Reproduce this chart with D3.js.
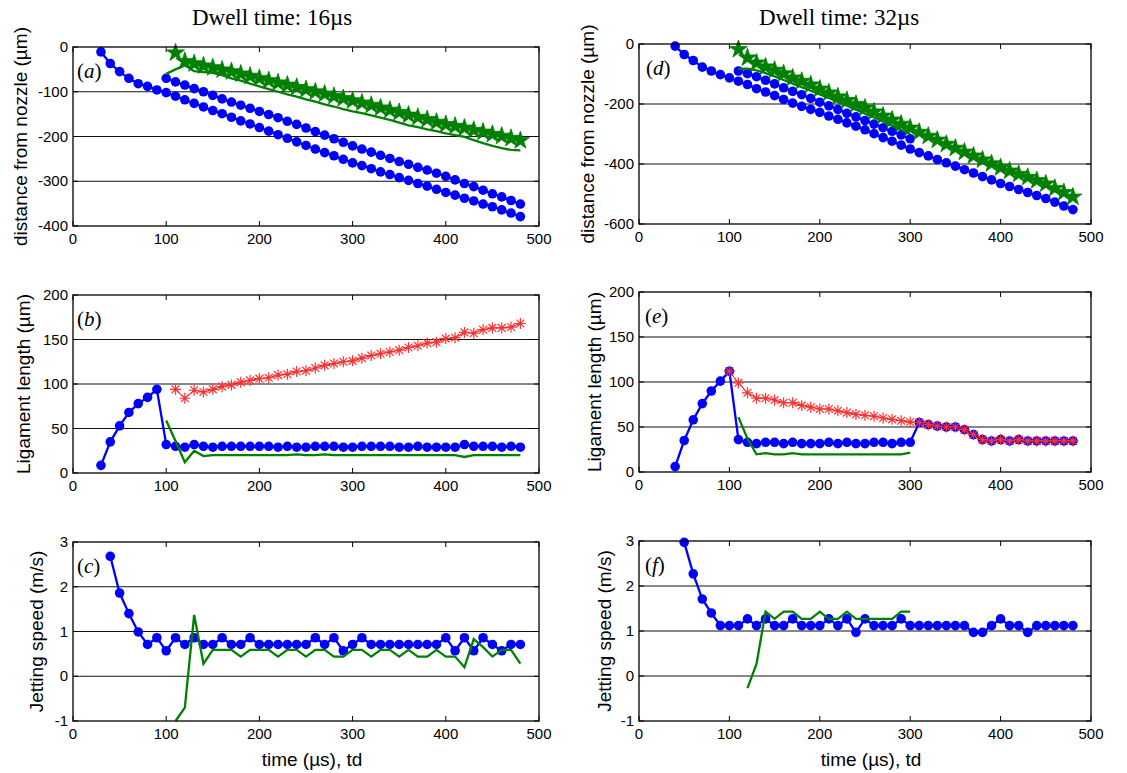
<!DOCTYPE html>
<html><head><meta charset="utf-8">
<script src="https://cdn.jsdelivr.net/npm/d3@7"></script>
<style>body{margin:0;background:#fff}svg{display:block}</style>
</head><body>
<svg id="c" width="1127" height="773"></svg>
<script>
// ---------- DATA ----------
const timeGrid = [0,10,20,30,40,50,60,70,80,90,100,110,120,130,140,150,160,170,180,190,200,210,220,230,240,250,260,270,280,290,300,310,320,330,340,350,360,370,380,390,400,410,420,430,440,450,460,470,480];
const xTicks = [0,100,200,300,400,500];
const titles = ["Dwell time: 16\u00b5s", "Dwell time: 32\u00b5s"];

// panel (a): distance from nozzle, dwell 16us
const aBlueLowerStart = 30;
const aBlueLower = [-11,-37,-55,-70,-82,-88,-96,-102,-110,-118,-126,-134,-142,-149,-157,-165,-172,-180,-188,-196,-204,-212,-220,-228,-236,-243,-251,-259,-265,-272,-279,-285,-292,-298,-305,-311,-318,-325,-331,-338,-344,-351,-357,-364,-371,-379];
const aBlueUpperStart = 100;
const aBlueUpper = [-70,-78,-85,-93,-100,-108,-116,-123,-130,-137,-144,-151,-158,-166,-173,-181,-189,-197,-205,-213,-221,-228,-235,-242,-249,-256,-262,-269,-275,-282,-289,-297,-305,-312,-320,-328,-335,-343,-351];
const aStarsStart = 110;
const aStars = [-13,-32,-37,-42,-46,-51,-55,-60,-65,-70,-75,-80,-85,-90,-95,-100,-105,-110,-115,-120,-125,-130,-136,-141,-146,-152,-157,-162,-168,-173,-177,-181,-186,-190,-195,-199,-204,-209];
const aGreenStart = 100;
const aGreen = [-60,-50,-41,-54,-56,-58,-63,-70,-75,-82,-88,-94,-100,-106,-111,-117,-122,-128,-133,-139,-144,-148,-153,-158,-163,-169,-175,-179,-184,-188,-193,-197,-201,-208,-215,-221,-226,-230,-231];
const aYTicks = [0,-100,-200,-300,-400];

// panel (b): ligament length, dwell 16us
const bBlueStart = 30;
const bBlue = [8.6,35,53,68,78,85,94,32,30,29,32,30,29,30,30,30,30,30,30,29,30,29,29,30,30,30,29,29,30,30,30,30,29,29,30,29,29,29,29,32,30,30,30,29,30,29];
const bRedStart = 110;
const bRed = [94,84,93,91,94,97,99,102,104,106,107,110,111,114,115,118,121,123,125,126,129,132,134,136,138,141,143,146,147,151,152,158,157,161,163,163,164,168];
const bGreenStart = 100;
const bGreen = [59,36,12,25,19,20,20,20,20,20,20,20,20,20,21,20,20,21,20,20,20,20,20,20,20,20,20,20,20,20,20,20,18,20,20,20,20,20,20];
const bYTicks = [0,50,100,150,200];

// panel (c): jetting speed, dwell 16us
const cBlueStart = 40;
const cBlue = [2.68,1.86,1.4,0.99,0.71,0.86,0.57,0.86,0.71,0.86,0.71,0.71,0.86,0.71,0.71,0.86,0.71,0.71,0.71,0.71,0.71,0.71,0.86,0.71,0.86,0.57,0.71,0.86,0.71,0.71,0.71,0.71,0.71,0.71,0.71,0.71,0.86,0.57,0.86,0.57,0.86,0.71,0.57,0.71,0.71];
const cGreenStart = 110;
const cGreen = [-1.0,-0.7,1.37,0.28,0.59,0.59,0.59,0.44,0.59,0.59,0.59,0.44,0.59,0.59,0.44,0.59,0.59,0.44,0.44,0.59,0.59,0.44,0.59,0.59,0.44,0.59,0.44,0.44,0.59,0.44,0.44,0.2,0.83,0.65,0.44,0.59,0.59,0.28];
const cYTicks = [-1,0,1,2,3];

// panel (d): distance from nozzle, dwell 32us
const dBlueLowerStart = 40;
const dBlueLower = [-7,-35,-55,-77,-90,-102,-113,-124,-135,-149,-160,-172,-185,-197,-208,-218,-228,-240,-251,-263,-274,-286,-299,-312,-324,-337,-350,-362,-373,-385,-396,-407,-419,-430,-442,-453,-465,-475,-485,-495,-505,-515,-527,-540,-552];
const dBlueUpperStart = 110;
const dBlueUpper = [-90,-99,-109,-121,-133,-146,-158,-169,-181,-194,-206,-218,-231,-243,-255,-267,-279,-291,-303,-316];
const dStarsStart = 110;
const dStars = [-18,-46,-63,-76,-87,-99,-113,-124,-136,-150,-163,-176,-188,-201,-213,-226,-240,-253,-267,-280,-294,-307,-320,-334,-347,-360,-373,-386,-399,-412,-423,-434,-444,-455,-466,-481,-495,-510];
const dGreenStart = 110;
const dGreen = [-83,-82,-88,-97,-108,-120,-132,-144,-156,-168,-180,-193,-206,-219,-232,-245,-258,-272,-286,-300];
const dYTicks = [0,-200,-400,-600];

// panel (e): ligament length, dwell 32us
const eBlueStart = 40;
const eBlue = [6,35,58,76,90,101,112,36,33,31.5,33,33,31.5,33,31.5,31.5,31.5,33,31.5,33,31.5,31.5,33,33,31.5,33,33,55,52.6,51,50,50,47,41.5,36,34.5,36,34.5,36,34.5,34.5,34.5,34.5,34.5,34.5];
const eRedStart = 100;
const eRed = [112,99,88,82,82,80,77,77,74,72,70,70,68,66,64,63,62,60,58.5,57,55.5,55,52.6,51,50,50,47,41.5,36,34.5,36,34.5,36,34.5,34.5,34.5,34.5,34.5,34.5];
const eGreenStart = 110;
const eGreen = [61,37,19.6,21,19.6,19.6,21,19.6,19.6,19.6,19.6,19.6,19.6,19.6,19.6,19.6,19.6,19.6,19.6,21.5];
const eYTicks = [0,50,100,150,200];

// panel (f): jetting speed, dwell 32us
const fBlueStart = 50;
const fBlue = [2.97,2.27,1.71,1.4,1.12,1.12,1.12,1.27,1.12,1.27,1.12,1.12,1.27,1.12,1.12,1.12,1.27,1.12,1.27,0.97,1.27,1.12,1.12,1.12,1.27,1.12,1.12,1.12,1.12,1.12,1.12,1.12,0.97,0.97,1.12,1.27,1.12,1.12,0.97,1.12,1.12,1.12,1.12,1.12];
const fGreenStart = 120;
const fGreen = [-0.27,0.27,1.43,1.27,1.43,1.43,1.27,1.27,1.43,1.27,1.27,1.43,1.27,1.27,1.27,1.27,1.27,1.43,1.43];
const fYTicks = [-1,0,1,2,3];

// ---------- LAYOUT ----------
const BLUE = "#0000ff", GREEN = "#008000", RED = "#ff0000";
function pts(start, vals){
  const i0 = timeGrid.indexOf(start);
  return vals.map((v,i)=>[timeGrid[i0+i], v]);
}
const panels = [
  {lab:"a", x0:73, x1:539, y0:47, y1:226, ticks:aYTicks, ylabel:"distance from nozzle (\u00b5m)", lx:-53, px:4,
   series:[{k:"blue",d:pts(aBlueLowerStart,aBlueLower)},{k:"blue",d:pts(aBlueUpperStart,aBlueUpper)},{k:"green",d:pts(aGreenStart,aGreen)},{k:"star",d:pts(aStarsStart,aStars)}]},
  {lab:"b", x0:73, x1:539, y0:295, y1:473, ticks:bYTicks, ylabel:"Ligament length (\u00b5m)", lx:-50, px:4,
   series:[{k:"blue",d:pts(bBlueStart,bBlue)},{k:"green",d:pts(bGreenStart,bGreen)},{k:"red",d:pts(bRedStart,bRed)}]},
  {lab:"c", x0:73, x1:539, y0:542, y1:721, ticks:cYTicks, ylabel:"Jetting speed (m/s)", lx:-37, px:4, xlabel:true,
   series:[{k:"blue",d:pts(cBlueStart,cBlue)},{k:"green",d:pts(cGreenStart,cGreen)}]},
  {lab:"d", x0:639, x1:1091, y0:44, y1:224, ticks:dYTicks, ylabel:"distance from nozzle (\u00b5m)", lx:-52, px:7,
   series:[{k:"blue",d:pts(dBlueLowerStart,dBlueLower)},{k:"blue",d:pts(dBlueUpperStart,dBlueUpper)},{k:"green",d:pts(dGreenStart,dGreen)},{k:"star",d:pts(dStarsStart,dStars)}]},
  {lab:"e", x0:639, x1:1091, y0:292, y1:472, ticks:eYTicks, ylabel:"Ligament length (\u00b5m)", lx:-45, px:6,
   series:[{k:"blue",d:pts(eBlueStart,eBlue)},{k:"green",d:pts(eGreenStart,eGreen)},{k:"red",d:pts(eRedStart,eRed)}]},
  {lab:"f", x0:639, x1:1091, y0:541, y1:721, ticks:fYTicks, ylabel:"Jetting speed (m/s)", lx:-35, px:6, xlabel:true,
   series:[{k:"blue",d:pts(fBlueStart,fBlue)},{k:"green",d:pts(fGreenStart,fGreen)}]}
];

const svg = d3.select("#c");
svg.append("rect").attr("width",1127).attr("height",773).attr("fill","#fff");
const SANS = "'Liberation Sans', Arial, Helvetica, sans-serif";
const SERIF = "'Liberation Serif', 'Times New Roman', serif";

svg.append("text").attr("x",272).attr("y",25).attr("text-anchor","middle")
  .attr("font-family",SERIF).attr("font-size",23).text(titles[0]);
svg.append("text").attr("x",839).attr("y",25).attr("text-anchor","middle")
  .attr("font-family",SERIF).attr("font-size",23).text(titles[1]);

const starSym = d3.symbol().type(d3.symbolStar).size(100);
const lineGen = (x,y)=>d3.line().x(d=>x(d[0])).y(d=>y(d[1]));

panels.forEach(p=>{
  const x = d3.scaleLinear().domain([0,500]).range([p.x0,p.x1]);
  const ext = d3.extent(p.ticks);
  const y = d3.scaleLinear().domain(ext).range([p.y1,p.y0]);
  const g = svg.append("g");
  // grid
  p.ticks.filter(t=>t!==ext[0]&&t!==ext[1]).forEach(t=>{
    g.append("line").attr("x1",p.x0).attr("x2",p.x1).attr("y1",y(t)).attr("y2",y(t))
      .attr("stroke","#111").attr("stroke-width",1);
  });
  // ticks
  xTicks.forEach(t=>{
    g.append("line").attr("x1",x(t)).attr("x2",x(t)).attr("y1",p.y1).attr("y2",p.y1-5).attr("stroke","#000");
    g.append("line").attr("x1",x(t)).attr("x2",x(t)).attr("y1",p.y0).attr("y2",p.y0+5).attr("stroke","#000");
    g.append("text").attr("x",x(t)).attr("y",p.y1+18).attr("text-anchor","middle")
      .attr("font-family",SANS).attr("font-size",15).text(t);
  });
  p.ticks.forEach(t=>{
    g.append("line").attr("x1",p.x0).attr("x2",p.x0+5).attr("y1",y(t)).attr("y2",y(t)).attr("stroke","#000");
    g.append("line").attr("x1",p.x1).attr("x2",p.x1-5).attr("y1",y(t)).attr("y2",y(t)).attr("stroke","#000");
    g.append("text").attr("x",p.x0-5).attr("y",y(t)+5).attr("text-anchor","end")
      .attr("font-family",SANS).attr("font-size",15).text(t);
  });
  // y label
  const yc = (p.y0+p.y1)/2;
  g.append("text").attr("transform",`translate(${p.x0+p.lx},${yc}) rotate(-90)`)
    .attr("text-anchor","middle").attr("dy","0.35em")
    .attr("font-family",SANS).attr("font-size",19).text(p.ylabel);
  if(p.xlabel){
    g.append("text").attr("x",(p.x0+p.x1)/2+6).attr("y",766).attr("text-anchor","middle")
      .attr("font-family",SANS).attr("font-size",19).text("time (\u00b5s), td");
  }
  // series
  p.series.forEach(s=>{
    if(s.k==="blue"){
      g.append("path").attr("d",lineGen(x,y)(s.d)).attr("fill","none").attr("stroke",BLUE).attr("stroke-width",2.3);
      g.selectAll(null).data(s.d).enter().append("circle")
        .attr("cx",d=>x(d[0])).attr("cy",d=>y(d[1])).attr("r",4.8).attr("fill",BLUE);
    } else if(s.k==="green"){
      g.append("path").attr("d",lineGen(x,y)(s.d)).attr("fill","none").attr("stroke",GREEN).attr("stroke-width",2.3);
    } else if(s.k==="red"){
      g.append("path").attr("d",lineGen(x,y)(s.d)).attr("fill","none").attr("stroke",RED).attr("stroke-width",1);
      g.selectAll(null).data(s.d).enter().append("path")
        .attr("transform",d=>`translate(${x(d[0])},${y(d[1])})`)
        .attr("d","M-5.5,0H5.5M0,-5.5V5.5M-3.9,-3.9L3.9,3.9M-3.9,3.9L3.9,-3.9")
        .attr("stroke","#ff3030").attr("stroke-width",1.2).attr("fill","none");
    } else if(s.k==="star"){
      g.selectAll(null).data(s.d).enter().append("path")
        .attr("transform",d=>`translate(${x(d[0])},${y(d[1])})`)
        .attr("d",starSym).attr("fill",GREEN).attr("stroke",GREEN).attr("stroke-width",0.8);
    }
  });
  // box
  g.append("rect").attr("x",p.x0).attr("y",p.y0).attr("width",p.x1-p.x0).attr("height",p.y1-p.y0)
    .attr("fill","none").attr("stroke","#000").attr("stroke-width",1.3);
  // panel label: upright parentheses, italic letter
  const t = g.append("text").attr("x",p.x0+p.px).attr("y",p.y0+31)
    .attr("font-family",SERIF).attr("font-size",21);
  t.append("tspan").text("(");
  t.append("tspan").attr("font-style","italic").text(p.lab);
  t.append("tspan").text(")");
});
</script>
</body></html>
